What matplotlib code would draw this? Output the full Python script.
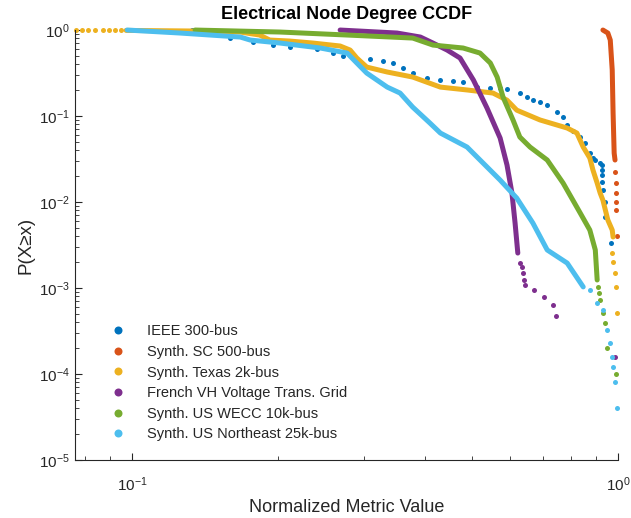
import matplotlib
matplotlib.use("Agg")
import matplotlib.pyplot as plt
from matplotlib.ticker import LogLocator, NullFormatter

plt.rcParams['font.family'] = ['Liberation Sans', 'DejaVu Sans']

# CCDF points per network: a dense part drawn as a line, sparse tail drawn as dots
ieee_x = [0.133, 0.159, 0.1775, 0.195, 0.211, 0.240, 0.259, 0.272, 0.285, 0.309,
          0.328, 0.344, 0.361, 0.378, 0.405, 0.431, 0.4575, 0.480, 0.513, 0.546,
          0.572, 0.591, 0.628, 0.650, 0.668, 0.691, 0.715, 0.749, 0.771, 0.786,
          0.807, 0.836, 0.855, 0.875, 0.888, 0.898, 0.919, 0.927, 0.927, 0.927,
          0.927, 0.931, 0.940, 0.940, 0.967]
ieee_y = [1.0, 0.807, 0.725, 0.669, 0.634, 0.601, 0.540, 0.499, 0.485, 0.460,
          0.436, 0.413, 0.361, 0.316, 0.277, 0.262, 0.255, 0.249, 0.217, 0.213,
          0.210, 0.206, 0.185, 0.166, 0.153, 0.1455, 0.134, 0.111, 0.0973, 0.0786,
          0.067, 0.057, 0.0485, 0.0371, 0.0325, 0.0308, 0.0284, 0.0269, 0.0236, 0.0206,
          0.0171, 0.0138, 0.0100, 0.0067, 0.00333]

sc_x = [0.931, 0.953, 0.964, 0.973, 0.977, 0.982, 0.986]
sc_y = [1.0, 0.923, 0.765, 0.343, 0.108, 0.037, 0.0308]
sc_tail_x = [0.986, 0.991, 0.991, 0.991, 0.991, 0.995]
sc_tail_y = [0.0224, 0.0167, 0.0127, 0.0100, 0.0081, 0.0040]

tx_head_x = [0.0767, 0.0789, 0.0812, 0.0839, 0.0871, 0.0897, 0.0923, 0.0949]
tx_head_y = [1.0, 0.998, 0.997, 0.996, 0.995, 0.994, 0.993, 0.992]
tx_x = [0.0972, 0.138, 0.167, 0.183, 0.192, 0.211, 0.2355, 0.268, 0.281, 0.290,
        0.304, 0.335, 0.378, 0.431, 0.489, 0.553, 0.591, 0.619, 0.691, 0.786,
        0.823, 0.848, 0.875, 0.888, 0.906, 0.919, 0.931, 0.953, 0.973, 0.977]
tx_y = [0.99, 0.973, 0.948, 0.875, 0.765, 0.745, 0.706, 0.652, 0.585, 0.473,
        0.371, 0.325, 0.284, 0.217, 0.201, 0.185, 0.153, 0.117, 0.090, 0.0725,
        0.0634, 0.0436, 0.0325, 0.0236, 0.0166, 0.0127, 0.0105, 0.00618, 0.00472, 0.00392]
tx_tail_x = [0.973, 0.977, 0.986, 0.991, 0.995]
tx_tail_y = [0.00255, 0.00201, 0.00149, 0.00103, 0.000512]

fr_x = [0.268, 0.351, 0.392, 0.416, 0.445, 0.473, 0.504, 0.5375, 0.572, 0.591,
        0.605, 0.614, 0.622]
fr_y = [1.0, 0.923, 0.829, 0.706, 0.585, 0.473, 0.262, 0.124, 0.0555, 0.0269,
        0.0127, 0.0057, 0.00255]
fr_tail_x = [0.628, 0.634, 0.638, 0.641, 0.645, 0.671, 0.705, 0.734, 0.745, 0.986]
fr_tail_y = [0.00195, 0.00175, 0.00149, 0.00124, 0.00108, 0.00095, 0.000786,
             0.000634, 0.000472, 0.000158]

wecc_x = [0.1348, 0.2016, 0.277, 0.378, 0.416, 0.480, 0.520, 0.546, 0.564, 0.580,
          0.608, 0.628, 0.659, 0.715, 0.771, 0.836, 0.875, 0.898, 0.906]
wecc_y = [1.0, 0.948, 0.875, 0.807, 0.669, 0.618, 0.540, 0.414, 0.284, 0.166,
          0.090, 0.057, 0.0436, 0.0308, 0.0166, 0.00745, 0.00472, 0.00277, 0.00124]
wecc_tail_x = [0.910, 0.915, 0.919, 0.931, 0.940, 0.948, 0.990]
wecc_tail_y = [0.00103, 0.000875, 0.000725, 0.000512, 0.000392, 0.000201, 0.0001]

ne_x = [0.0977, 0.1255, 0.167, 0.175, 0.2016, 0.244, 0.277, 0.290, 0.304, 0.335,
        0.356, 0.378, 0.410, 0.431, 0.489, 0.572, 0.619, 0.668, 0.715, 0.786, 0.848]
ne_y = [1.0, 0.923, 0.829, 0.765, 0.706, 0.618, 0.540, 0.414, 0.316, 0.217,
        0.185, 0.127, 0.083, 0.0634, 0.0436, 0.0180, 0.0111, 0.0057, 0.00277,
        0.00195, 0.00103]
ne_tail_x = [0.875, 0.906, 0.931, 0.948, 0.964, 0.973, 0.977, 0.986, 0.995]
ne_tail_y = [0.00095, 0.00067, 0.00055, 0.000325, 0.000229, 0.000158, 0.000121,
             8.07e-5, 4.03e-5]

names = ['IEEE 300-bus', 'Synth. SC 500-bus', 'Synth. Texas 2k-bus',
         'French VH Voltage Trans. Grid', 'Synth. US WECC 10k-bus',
         'Synth. US Northeast 25k-bus']
colors = ['#0072BD', '#D95319', '#EDB120', '#7E2F8E', '#77AC30', '#4DBEEE']

lw = 3.6
ms = 3.6

fig = plt.figure(figsize=(6.31, 5.18), dpi=100)
ax = fig.add_axes([0.1189, 0.112, 0.8605, 0.830])

dot = dict(linestyle='none', marker='o', markersize=ms, markeredgewidth=0, clip_on=False)
line = dict(linewidth=lw, solid_capstyle='round', solid_joinstyle='round', clip_on=False)

ax.plot(ieee_x, ieee_y, color=colors[0], label=names[0], **dot)

ax.plot(sc_x, sc_y, color=colors[1], **line)
ax.plot(sc_tail_x, sc_tail_y, color=colors[1], label=names[1], **dot)

ax.plot(tx_head_x, tx_head_y, color=colors[2], **dot)
ax.plot(tx_x, tx_y, color=colors[2], **line)
ax.plot(tx_tail_x, tx_tail_y, color=colors[2], label=names[2], **dot)

ax.plot(fr_x, fr_y, color=colors[3], **line)
ax.plot(fr_tail_x, fr_tail_y, color=colors[3], label=names[3], **dot)

ax.plot(wecc_x, wecc_y, color=colors[4], **line)
ax.plot(wecc_tail_x, wecc_tail_y, color=colors[4], label=names[4], **dot)

ax.plot(ne_x, ne_y, color=colors[5], **line)
ax.plot(ne_tail_x, ne_tail_y, color=colors[5], label=names[5], **dot)

ax.set_xscale('log')
ax.set_yscale('log')
ax.set_xlim(0.0763, 1.0)
ax.set_ylim(1e-5, 1.0)

ax.yaxis.set_major_locator(LogLocator(base=10, numticks=10))
ax.yaxis.set_minor_locator(LogLocator(base=10, subs=range(2, 10), numticks=10))
ax.yaxis.set_minor_formatter(NullFormatter())
ax.xaxis.set_minor_formatter(NullFormatter())

for side in ['top', 'right']:
    ax.spines[side].set_visible(False)
for side in ['left', 'bottom']:
    ax.spines[side].set_color('#262626')
    ax.spines[side].set_linewidth(0.8)

ax.tick_params(which='both', direction='in', colors='#262626', labelsize=11)
ax.tick_params(which='major', length=5, width=0.8)
ax.tick_params(which='minor', length=3, width=0.6)
ax.tick_params(axis='x', which='major', pad=11)
ax.tick_params(axis='y', which='major', pad=4)

ax.set_title('Electrical Node Degree CCDF', fontsize=13, fontweight='bold', pad=8)
ax.set_xlabel('Normalized Metric Value', fontsize=13, color='#262626', labelpad=4)
ax.set_ylabel('P(X\u2265x)', fontsize=13.5, color='#262626', labelpad=3)

leg = ax.legend(loc='lower left', bbox_to_anchor=(0.052, 0.030), frameon=False,
                fontsize=10.5, markerscale=1.6, handlelength=1.2, handletextpad=1.4,
                labelspacing=0.45, borderaxespad=0)
for t in leg.get_texts():
    t.set_color('#262626')

fig.savefig('out.png', dpi=100, facecolor='white')
